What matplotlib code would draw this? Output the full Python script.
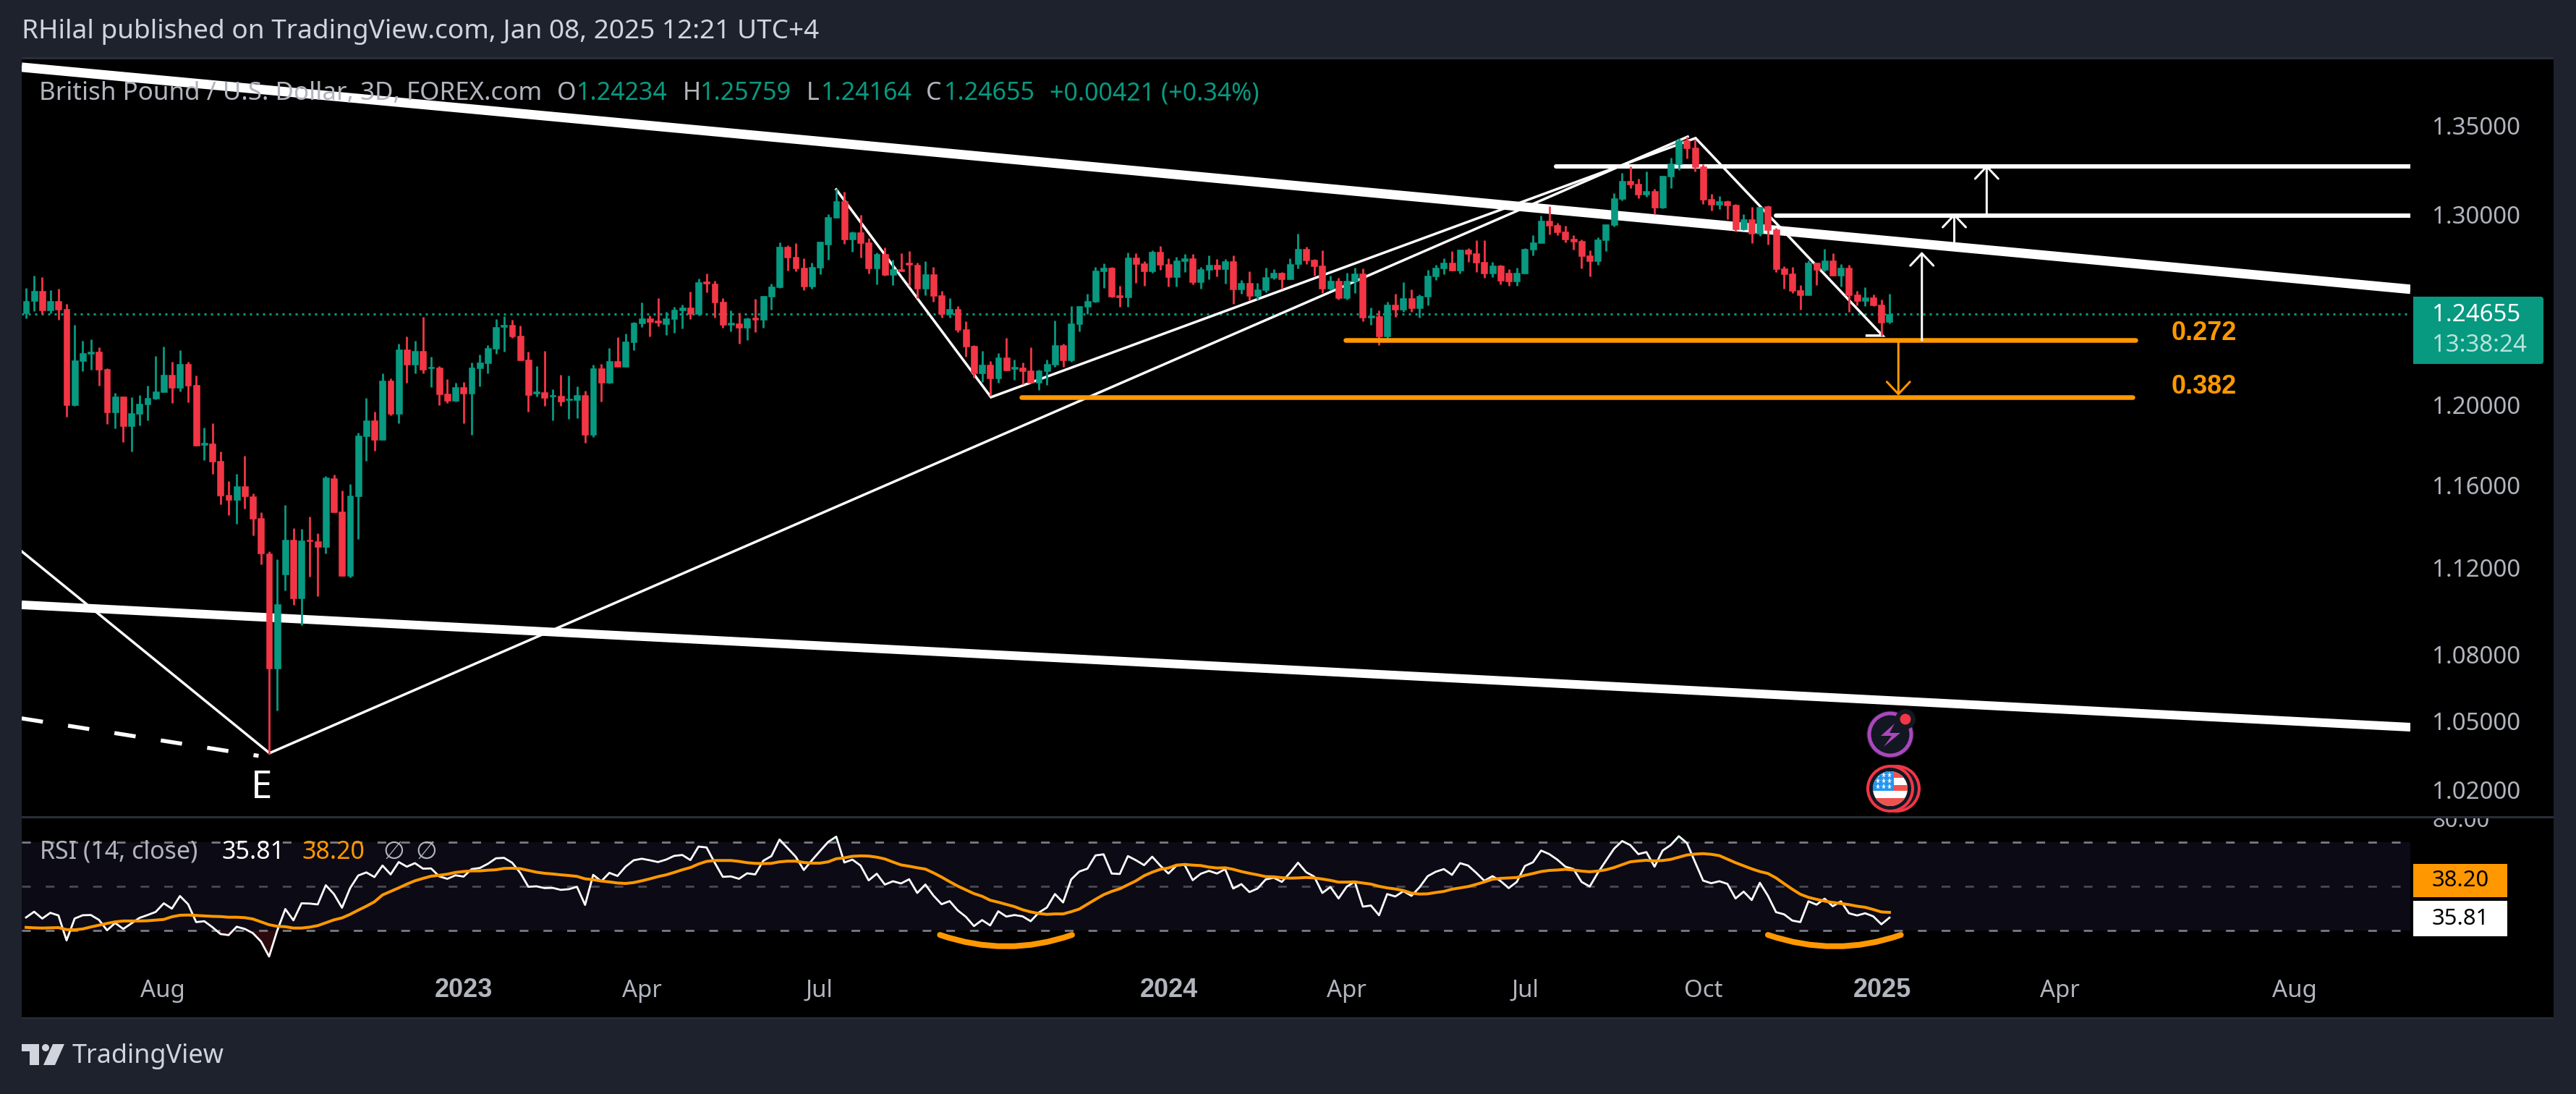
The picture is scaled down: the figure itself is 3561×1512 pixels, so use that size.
import numpy as np
import matplotlib
matplotlib.use("Agg")
import matplotlib.pyplot as plt
from matplotlib.patches import Rectangle, Circle, Polygon, FancyBboxPatch, PathPatch
from matplotlib.path import Path
from matplotlib.ticker import NullLocator, NullFormatter
from matplotlib.transforms import Bbox

plt.rcParams['font.family'] = ['Noto Sans', 'DejaVu Sans']

# ---------- data (bar index = 3D bars, prices GBP/USD) ----------
opens = [1.2470,1.2535,1.2588,1.2487,1.2535,1.2493,1.1996,1.2223,1.2261,1.2269,
1.2181,1.1960,1.2042,1.1892,1.1954,1.2000,1.2030,1.2064,1.2151,1.2083,
1.2208,1.2100,1.1798,1.1805,1.1717,1.1551,1.1526,1.1594,1.1544,1.1440,
1.1270,1.0735,1.1170,1.1335,1.1058,1.1335,1.1328,1.1300,1.1633,1.1470,
1.1163,1.1544,1.1841,1.1920,1.1822,1.2122,1.1954,1.2282,1.2204,1.2274,
1.2183,1.2189,1.2057,1.2019,1.2089,1.2057,1.2185,1.2212,1.2286,1.2400,
1.2410,1.2355,1.2231,1.2057,1.2064,1.2040,1.2045,1.2023,1.2023,1.2049,
1.1848,1.2185,1.2111,1.2223,1.2193,1.2318,1.2419,1.2446,
1.2433,1.2414,1.2440,1.2486,1.2501,1.2466,1.2639,1.2627,1.2532,1.2410,
1.2417,1.2395,1.2448,1.2437,1.2558,1.2608,1.2826,1.2772,1.2714,1.2612,
1.2714,1.2838,1.2983,1.3075,1.2865,1.2905,1.2850,1.2710,1.2787,1.2675,
1.2705,1.2740,1.2730,1.2601,1.2678,1.2566,1.2467,1.2494,1.2388,1.2300,
1.2159,1.2203,1.2133,1.2241,1.2181,1.2189,1.2174,1.2110,1.2170,1.2203,
1.2304,1.2226,1.2414,1.2506,1.2532,1.2694,1.2712,1.2566,1.2554,1.2768,
1.2737,1.2694,1.2799,1.2733,1.2662,1.2748,1.2764,1.2635,1.2702,1.2729,
1.2705,1.2748,1.2597,1.2631,1.2562,1.2593,1.2658,1.2686,1.2650,1.2733,
1.2814,1.2756,1.2725,1.2601,1.2643,1.2551,1.2639,1.2682,1.2448,1.2456,
1.2350,1.2517,1.2491,1.2551,1.2498,1.2558,1.2666,1.2709,1.2740,1.2698,
1.2811,1.2791,1.2744,1.2682,1.2725,1.2686,1.2639,1.2682,1.2811,1.2846,
1.2968,1.2944,1.2909,1.2869,1.2857,1.2779,1.2748,1.2861,1.2944,1.3087,
1.3187,1.3171,1.3111,1.3131,1.3040,1.3211,1.3280,1.3414,1.3373,1.3268,
1.3087,1.3055,1.3075,1.3055,1.2921,1.2975,1.2897,1.3047,1.2921,1.2709,
1.2682,1.2594,1.2567,1.2740,1.2701,1.2752,1.2670,1.2713,1.2570,1.2536,
1.2555,1.2517,1.24234]
highs = [1.2604,1.2669,1.2662,1.2594,1.2600,1.2519,1.2410,1.2326,1.2334,1.2292,
1.2185,1.2060,1.2042,1.2038,1.2047,1.2094,1.2250,1.2297,1.2219,1.2280,
1.2218,1.2147,1.1885,1.1906,1.1766,1.1618,1.1655,1.1744,1.1556,1.1466,
1.1279,1.1240,1.1503,1.1391,1.1387,1.1447,1.1364,1.1642,1.1651,1.1573,
1.1605,1.1857,1.2034,1.1965,1.2160,1.2134,1.2313,1.2351,1.2328,1.2450,
1.2246,1.2197,1.2130,1.2111,1.2113,1.2216,1.2254,1.2303,1.2442,1.2454,
1.2435,1.2408,1.2271,1.2197,1.2274,1.2079,1.2151,1.2149,1.2092,1.2070,
1.2202,1.2208,1.2290,1.2347,1.2364,1.2425,1.2529,1.2458,
1.2550,1.2477,1.2507,1.2515,1.2585,1.2655,1.2682,1.2643,1.2550,1.2486,
1.2473,1.2448,1.2547,1.2562,1.2627,1.2850,1.2834,1.2846,1.2764,1.2740,
1.2854,1.3003,1.3143,1.3127,1.2909,1.2999,1.2873,1.2795,1.2821,1.2756,
1.2791,1.2803,1.2740,1.2748,1.2717,1.2589,1.2551,1.2510,1.2429,1.2304,
1.2274,1.2222,1.2263,1.2342,1.2229,1.2215,1.2293,1.2178,1.2229,1.2433,
1.2312,1.2510,1.2510,1.2575,1.2717,1.2736,1.2717,1.2617,1.2795,1.2791,
1.2747,1.2807,1.2830,1.2764,1.2772,1.2787,1.2787,1.2717,1.2779,1.2760,
1.2760,1.2779,1.2647,1.2694,1.2631,1.2713,1.2705,1.2690,1.2764,1.2896,
1.2826,1.2760,1.2807,1.2670,1.2658,1.2686,1.2713,1.2709,1.2501,1.2486,
1.2532,1.2574,1.2635,1.2597,1.2570,1.2701,1.2729,1.2764,1.2803,1.2811,
1.2818,1.2861,1.2861,1.2744,1.2729,1.2705,1.2713,1.2818,1.2888,1.2995,
1.3047,1.2956,1.2940,1.2888,1.2865,1.2807,1.2879,1.2948,1.3119,1.3232,
1.3268,1.3199,1.3240,1.3143,1.3215,1.3316,1.3427,1.3435,1.3421,1.3280,
1.3115,1.3103,1.3079,1.3059,1.3003,1.3044,1.3044,1.3051,1.2929,1.2721,
1.2717,1.2620,1.2752,1.2740,1.2814,1.2791,1.2733,1.2729,1.2590,1.2609,
1.2570,1.2543,1.25759]
lows = [1.2445,1.2483,1.2468,1.2472,1.2437,1.1939,1.1993,1.2170,1.2177,1.2096,
1.1902,1.1881,1.1811,1.1765,1.1896,1.1918,1.2026,1.2064,1.2008,1.2068,
1.2011,1.1794,1.1722,1.1655,1.1506,1.1451,1.1412,1.1484,1.1356,1.1217,
1.0355,1.0546,1.1093,1.1028,1.0933,1.1159,1.1068,1.1267,1.1466,1.1161,
1.1154,1.1339,1.1717,1.1769,1.1822,1.1947,1.1906,1.2111,1.2160,1.2160,
1.2087,1.1996,1.2008,1.2015,1.1906,1.1848,1.2092,1.2157,1.2261,1.2269,
1.2343,1.2227,1.1965,1.2042,1.1993,1.1920,1.1991,1.1928,1.1932,1.1809,
1.1837,1.2015,1.2107,1.2193,1.2193,1.2278,1.2400,1.2351,
1.2404,1.2357,1.2368,1.2391,1.2440,1.2460,1.2582,1.2449,1.2395,1.2376,
1.2313,1.2330,1.2372,1.2395,1.2490,1.2605,1.2698,1.2694,1.2594,1.2601,
1.2678,1.2757,1.2983,1.2842,1.2799,1.2768,1.2682,1.2624,1.2672,1.2620,
1.2694,1.2617,1.2551,1.2566,1.2532,1.2448,1.2448,1.2372,1.2244,1.2136,
1.2114,1.2043,1.2110,1.2174,1.2126,1.2103,1.2110,1.2074,1.2099,1.2192,
1.2192,1.2219,1.2376,1.2467,1.2528,1.2605,1.2554,1.2506,1.2506,1.2631,
1.2617,1.2686,1.2702,1.2612,1.2612,1.2690,1.2624,1.2601,1.2650,1.2666,
1.2627,1.2521,1.2575,1.2540,1.2544,1.2582,1.2650,1.2601,1.2650,1.2710,
1.2733,1.2670,1.2578,1.2593,1.2543,1.2543,1.2578,1.2429,1.2410,1.2304,
1.2335,1.2452,1.2478,1.2478,1.2448,1.2512,1.2646,1.2678,1.2698,1.2682,
1.2744,1.2690,1.2658,1.2662,1.2624,1.2616,1.2616,1.2682,1.2779,1.2846,
1.2893,1.2888,1.2850,1.2811,1.2709,1.2666,1.2729,1.2803,1.2936,1.3079,
1.3147,1.3091,1.3099,1.3003,1.3036,1.3147,1.3248,1.3312,1.3240,1.3059,
1.3023,1.3031,1.2975,1.2909,1.2917,1.2846,1.2886,1.2838,1.2690,1.2601,
1.2578,1.2491,1.2567,1.2620,1.2694,1.2670,1.2612,1.2478,1.2512,1.2509,
1.2509,1.2353,1.24164]
closes = [1.2535,1.2588,1.2487,1.2535,1.2491,1.1996,1.2227,1.2265,1.2271,1.2177,
1.1960,1.2042,1.1892,1.1958,1.2004,1.2034,1.2068,1.2153,1.2083,1.2208,
1.2096,1.1794,1.1809,1.1713,1.1547,1.1526,1.1594,1.1542,1.1436,1.1267,
1.0735,1.1031,1.1335,1.1058,1.1331,1.1326,1.1300,1.1635,1.1466,1.1163,
1.1547,1.1844,1.1920,1.1822,1.2122,1.1954,1.2282,1.2204,1.2274,1.2177,
1.2191,1.2053,1.2019,1.2089,1.2057,1.2189,1.2216,1.2290,1.2400,1.2412,
1.2351,1.2227,1.2049,1.2066,1.2034,1.2049,1.2015,1.2030,1.2049,1.1848,
1.2185,1.2111,1.2223,1.2193,1.2322,1.2423,1.2446,1.2427,
1.2421,1.2444,1.2490,1.2501,1.2466,1.2635,1.2627,1.2528,1.2410,1.2421,
1.2395,1.2444,1.2437,1.2562,1.2612,1.2826,1.2768,1.2710,1.2612,1.2717,
1.2854,1.2987,1.3075,1.2865,1.2905,1.2846,1.2710,1.2787,1.2675,1.2705,
1.2694,1.2730,1.2601,1.2678,1.2562,1.2467,1.2494,1.2385,1.2297,1.2159,
1.2203,1.2133,1.2241,1.2174,1.2192,1.2170,1.2110,1.2174,1.2207,1.2304,
1.2226,1.2417,1.2510,1.2536,1.2698,1.2713,1.2558,1.2554,1.2768,1.2733,
1.2694,1.2799,1.2729,1.2662,1.2752,1.2764,1.2635,1.2705,1.2729,1.2705,
1.2748,1.2597,1.2631,1.2562,1.2597,1.2662,1.2686,1.2650,1.2733,1.2814,
1.2752,1.2721,1.2601,1.2643,1.2551,1.2643,1.2682,1.2448,1.2460,1.2350,
1.2517,1.2491,1.2551,1.2498,1.2562,1.2670,1.2713,1.2740,1.2698,1.2811,
1.2787,1.2740,1.2682,1.2725,1.2643,1.2639,1.2686,1.2814,1.2850,1.2968,
1.2940,1.2905,1.2865,1.2853,1.2776,1.2748,1.2865,1.2948,1.3091,1.3187,
1.3167,1.3111,1.3131,1.3040,1.3215,1.3284,1.3414,1.3369,1.3264,1.3083,
1.3055,1.3075,1.3051,1.2921,1.2975,1.2897,1.3044,1.2917,1.2705,1.2678,
1.2588,1.2567,1.2740,1.2701,1.2752,1.2670,1.2713,1.2567,1.2536,1.2555,
1.2513,1.2423,1.24655]

rsi = [35.9,38.5,35.4,38.0,36.8,25.5,35.4,36.9,37.0,34.8,30.1,33.4,30.7,33.2,35.7,37.0,38.4,42.3,39.9,45.6,
41.9,33.8,34.2,31.5,28.4,27.9,31.7,30.7,28.8,25.0,18.2,29.9,39.7,34.6,42.3,42.2,41.8,50.5,46.5,40.3,
49.2,54.9,56.3,54.2,59.4,55.4,61.0,58.9,60.5,58.0,58.1,54.5,53.4,55.0,54.4,57.8,58.3,60.2,62.7,62.9,
60.7,56.1,49.8,50.0,49.2,49.3,48.4,48.7,49.8,41.6,55.2,52.3,56.1,54.7,58.9,61.8,62.5,61.8,
61.0,62.1,63.8,64.2,61.9,68.0,67.6,60.7,54.3,54.5,53.4,55.9,55.4,61.6,63.7,71.2,67.3,63.4,57.4,61.8,
66.0,70.1,72.5,60.8,62.1,59.4,52.7,55.7,50.8,52.3,51.3,53.2,47.0,50.8,45.8,41.9,43.3,39.1,36.2,32.0,
34.7,32.3,38.7,36.3,37.0,36.4,34.2,38.1,40.4,46.5,42.7,53.1,56.7,58.0,64.0,64.5,55.8,55.6,63.7,61.8,
59.6,63.4,59.4,55.8,59.4,59.7,52.8,55.7,57.0,55.8,57.8,49.0,51.0,47.4,49.0,53.1,53.9,
52.0,56.1,60.7,56.4,54.4,47.0,49.7,44.5,49.8,52.1,40.8,41.3,36.9,46.5,45.4,47.8,45.7,49.6,54.6,56.6,
57.8,55.2,60.5,59.4,56.1,52.5,54.6,52.4,49.2,52.0,59.2,60.9,66.2,64.6,62.1,58.9,57.8,52.0,49.9,56.1,
61.6,67.0,70.5,68.7,64.6,65.5,58.9,66.2,68.7,72.7,69.6,61.0,52.6,51.4,52.3,51.1,44.5,47.6,43.8,51.6,
45.7,38.3,37.3,34.5,33.8,43.2,41.7,44.4,41.0,43.2,37.8,36.8,37.8,36.4,32.8,35.81]
rsi_ma = [31.4,31.2,31.1,31.2,31.3,30.4,30.3,30.7,31.6,32.4,33.2,33.9,34.3,34.3,34.3,34.4,34.7,35.0,36.2,36.9,
37.0,36.8,36.6,36.4,36.3,36.0,36.0,35.8,35.2,33.9,32.6,31.9,31.7,31.1,31.1,31.5,32.2,33.5,34.8,35.7,
37.3,39.2,41.0,43.0,46.1,47.7,49.3,51.0,52.5,53.6,54.6,55.0,55.5,56.3,56.7,57.0,57.0,57.3,57.5,58.1,
58.2,58.0,57.2,56.4,55.9,55.6,55.2,54.9,54.5,53.4,53.0,52.4,52.0,51.5,51.3,51.7,52.5,53.4,
54.4,55.2,56.3,57.5,58.5,60.1,61.3,61.7,61.7,61.7,61.3,60.7,60.4,60.3,60.4,61.1,61.4,61.4,60.8,60.5,
60.5,61.1,62.5,62.9,63.6,63.8,63.7,63.2,62.4,61.0,59.7,59.1,58.4,57.8,56.1,54.2,52.1,50.1,48.4,46.7,
45.5,43.7,42.8,41.8,40.8,39.4,38.4,37.7,37.3,37.5,37.5,38.5,39.7,41.9,44.1,46.2,47.7,48.9,50.7,52.5,
54.8,56.4,57.7,58.3,59.6,59.9,59.6,59.4,58.7,58.3,58.4,57.7,56.7,55.9,55.2,54.4,54.3,
53.9,53.7,53.8,54.0,53.8,53.3,52.7,51.9,51.9,52.0,51.5,51.0,50.0,49.3,48.8,48.1,46.9,46.5,46.6,47.2,
47.7,48.7,49.3,49.9,50.9,52.0,53.2,53.6,53.8,54.0,55.0,55.8,56.7,57.2,57.4,57.7,57.4,56.9,56.6,56.9,
57.5,58.5,59.8,61.1,61.5,61.8,61.5,61.7,62.2,63.2,64.2,64.6,64.8,64.5,63.9,62.3,60.7,59.3,57.9,56.7,
55.8,53.8,51.2,48.7,46.4,45.0,44.1,43.3,42.7,42.2,41.7,41.0,40.5,39.5,38.4,38.20]

price_ticks = [1.35, 1.30, 1.20, 1.16, 1.12, 1.08, 1.05, 1.02]
time_tick_pos = [16.9, 54.0, 76.0, 97.9, 141.1, 163.0, 185.0, 207.0, 229.1, 251.0, 280.0]
time_tick_lab = ['Aug', '2023', 'Apr', 'Jul', '2024', 'Apr', 'Jul', 'Oct', '2025', 'Apr', 'Aug']
last_price = 1.24655

# drawings, in (bar index, price)
trend_top = ([-0.54, 294.3], [1.3836, 1.2598])
trend_low = ([-0.54, 294.3], [1.1027, 1.0472])
dashed_e = ([-0.54, 28.7], [1.0511, 1.0346])
zig_a = ([-0.54, 30.05, 205.1], [1.1279, 1.0358, 1.3436])
zig_b = ([100.0, 119.1, 206.07, 229.15, 227.2], [1.3140, 1.2037, 1.3428, 1.2354, 1.2354])
res_1 = ([188.8, 294.3], [1.3269, 1.3269])
res_2 = ([216.0, 294.3], [1.2996, 1.2996])
fib_272 = ([162.9, 260.4], [1.2331, 1.2331])
fib_382 = ([122.9, 260.0], [1.2037, 1.2037])

# ---------- style ----------
W, H, DPI = 3561, 1512, 100
UP, DOWN = '#089981', '#F23645'
FRAME, SEP = '#1E222D', '#2A2E39'
TXT = '#B2B5BE'
ORANGE = '#FF9800'
L, R = 30, 3332        # plot area, px
TOP, SPLIT, RSI_BOT = 82, 1128, 1340
def pt(px):
    return px * 72.0 / DPI

fig = plt.figure(figsize=(W / DPI, H / DPI), dpi=DPI, facecolor=FRAME)
def rect(l, t, r, b, **kw):
    return fig.add_axes([l / W, 1 - b / H, (r - l) / W, (b - t) / H], **kw)

bg = fig.add_axes([0, 0, 1, 1], zorder=0)
bg.set_xlim(0, W); bg.set_ylim(H, 0); bg.axis('off')
bg.add_patch(Rectangle((L, TOP), 3530 - L, 1406 - TOP, fc='black', ec='none'))
bg.add_patch(Rectangle((L, 79), 3530 - L, 3, fc=SEP, ec='none'))
bg.add_patch(Rectangle((L, SPLIT), 3530 - L, 3, fc=SEP, ec='none'))
bg.add_patch(Rectangle((L, 1406), 3530 - L, 2, fc=SEP, ec='none'))

xlim = (-0.536, 294.29)
idx = np.arange(len(closes))
o, h, l, c = map(np.array, (opens, highs, lows, closes))

# ---------- main pane ----------
ax = rect(L, TOP, R, SPLIT, zorder=1)
ax.patch.set_alpha(0)
ax.set_yscale('log')
ax.set_xlim(*xlim)
ax.set_ylim(1.0086, 1.3882)
for s in ax.spines.values():
    s.set_visible(False)
ax.set_xticks([])
ax.yaxis.tick_right()
ax.yaxis.set_major_locator(plt.FixedLocator(price_ticks))
ax.yaxis.set_major_formatter(plt.FixedFormatter(['%.5f' % p for p in price_ticks]))
ax.yaxis.set_minor_locator(NullLocator())
ax.yaxis.set_minor_formatter(NullFormatter())
ax.tick_params(axis='y', which='major', length=0, pad=pt(30), labelsize=pt(33), labelcolor=TXT)

ax.axhline(last_price, color=UP, lw=pt(3), ls=(0, (1, 2)), zorder=1)
ax.plot(*trend_top, color='white', lw=pt(13), solid_capstyle='butt', zorder=2)
ax.plot(*trend_low, color='white', lw=pt(12), solid_capstyle='butt', zorder=2)
ax.plot(*dashed_e, color='white', lw=pt(5.5), ls=(0, (5.4, 6.4)), dash_capstyle='butt', zorder=2)
ax.plot(*zig_a, color='white', lw=pt(3.5), solid_joinstyle='miter', zorder=2)
ax.plot(*zig_b, color='white', lw=pt(3.5), solid_joinstyle='miter', zorder=2)
ax.plot(*res_1, color='white', lw=pt(6), solid_capstyle='round', zorder=2)
ax.plot(*res_2, color='white', lw=pt(6), solid_capstyle='round', zorder=2)

colors = np.where(c >= o, UP, DOWN)
ax.vlines(idx, l, h, colors=colors, lw=pt(2.8), zorder=3)
ax.bar(idx, np.maximum(np.abs(c - o), 0.0002), bottom=np.minimum(o, c), width=0.8,
       color=colors, edgecolor=colors, linewidth=0.4, zorder=3)

ax.plot(*fib_272, color=ORANGE, lw=pt(6.5), solid_capstyle='round', zorder=4)
ax.plot(*fib_382, color=ORANGE, lw=pt(6.5), solid_capstyle='round', zorder=4)

def arrow(i, p0, p1, col):
    ax.annotate('', xy=(i, p1), xytext=(i, p0),
                arrowprops=dict(arrowstyle='->,head_length=%.1f,head_width=%.1f' % (pt(17), pt(16)),
                                color=col, lw=pt(3), shrinkA=0, shrinkB=0, mutation_scale=1),
                zorder=5)
arrow(234.0, 1.2330, 1.2799, 'white')
arrow(238.0, 1.2850, 1.3008, 'white')
arrow(242.0, 1.3008, 1.3277, 'white')
arrow(231.1, 1.2331, 1.2045, ORANGE)

ax.text(29.1, 1.0205, 'E', color='white', fontsize=pt(53), ha='center', va='center', zorder=6)
ax.text(268.8, 1.2365, '0.272', color=ORANGE, fontsize=pt(36), family='Liberation Sans', weight='bold',
        ha='center', va='center', zorder=6, clip_on=False)
ax.text(268.8, 1.2092, '0.382', color=ORANGE, fontsize=pt(36), family='Liberation Sans', weight='bold',
        ha='center', va='center', zorder=6, clip_on=False)

# ---------- RSI pane ----------
rx = rect(L, SPLIT + 3, R, RSI_BOT, zorder=1)
rx.patch.set_alpha(0)
rx.set_xlim(*xlim)
rx.set_ylim(12.3, 80.8)
for s in rx.spines.values():
    s.set_visible(False)
rx.set_yticks([])
rx.axhspan(30, 70, color='#0C0A14', lw=0, zorder=1)
dash = (0, (4.3, 7.4))
rx.axhline(70, color='#787B86', lw=pt(2.8), ls=dash, dash_capstyle='butt', zorder=2)
rx.axhline(50, color='#484A55', lw=pt(2.8), ls=dash, dash_capstyle='butt', zorder=2)
rx.axhline(30, color='#787B86', lw=pt(2.8), ls=dash, dash_capstyle='butt', zorder=2)
r = np.array(rsi)
rx.fill_between(idx, r, 30, where=r < 30, interpolate=True, color=DOWN, alpha=0.18, lw=0, zorder=2)
rx.fill_between(idx, r, 70, where=r > 70, interpolate=True, color=UP, alpha=0.18, lw=0, zorder=2)
rx.plot(idx, rsi, color='white', lw=pt(2.8), zorder=3)
rx.plot(idx, rsi_ma, color=ORANGE, lw=pt(4), zorder=4)
for a, m, b in ((112.8, 121.0, 129.1), (215.0, 223.3, 231.4)):
    rx.add_patch(PathPatch(Path([(a, 28.0), (m, 17.6), (b, 28.0)],
                                [Path.MOVETO, Path.CURVE3, Path.CURVE3]),
                           fc='none', ec=ORANGE, lw=pt(8), capstyle='round', zorder=5))
rx.set_xticks(time_tick_pos)
rx.set_xticklabels(time_tick_lab)
rx.tick_params(axis='x', length=0, pad=pt(29), labelsize=pt(33), labelcolor=TXT)
for t, s in zip(rx.get_xticklabels(), time_tick_lab):
    t.set_va('center')
    if s.isdigit():
        t.set_family('Liberation Sans')
        t.set_fontweight('bold')
        t.set_fontsize(pt(36))

# ---------- overlay: text and icons, in px ----------
ov = fig.add_axes([0, 0, 1, 1], zorder=3)
ov.set_xlim(0, W); ov.set_ylim(H, 0); ov.axis('off'); ov.patch.set_alpha(0)

def T(x, y, s, col=TXT, size=34, **kw):
    kw.setdefault('ha', 'left'); kw.setdefault('va', 'center')
    return ov.text(x, y, s, color=col, fontsize=pt(size), **kw)

T(30, 44, 'RHilal published on TradingView.com, Jan 08, 2025 12:21 UTC+4', '#D1D4DC', 37)
T(54, 129, 'British Pound / U.S. Dollar, 3D, FOREX.com', TXT, 35)
for lx, lab, vx, val in ((770, 'O', 797, '1.24234'), (944, 'H', 968, '1.25759'),
                         (1115, 'L', 1135, '1.24164'), (1280, 'C', 1305, '1.24655')):
    T(lx, 129, lab, TXT, 34)
    T(vx, 129, val, UP, 34)
T(1451, 129, '+0.00421 (+0.34%)', UP, 34)

T(55, 1178, 'RSI (14, close)', TXT, 34)
T(306, 1178, '35.81', 'white', 34)
T(417, 1178, '38.20', ORANGE, 34)
T(529, 1178, '∅', TXT, 34)
T(574, 1178, '∅', TXT, 34)

# last-price tag
ov.add_patch(FancyBboxPatch((3340, 414), 172, 85, boxstyle='round,pad=4,rounding_size=4', fc=UP, ec='none'))
ov.add_patch(Rectangle((3336, 410), 12, 93, fc=UP, ec='none'))
T(3362, 436, '1.24655', 'white', 33)
T(3362, 477, '13:38:24', '#B8E3DA', 33)
# RSI tags
ov.add_patch(Rectangle((3336, 1194), 130, 46, fc=ORANGE, ec='none'))
T(3401, 1217, '38.20', 'black', 31, ha='center')
ov.add_patch(Rectangle((3336, 1245), 130, 49, fc='white', ec='none'))
T(3401, 1270, '35.81', 'black', 31, ha='center')
t80 = T(3362, 1135, '80.00', TXT, 31)
t80.set_clip_box(Bbox.from_extents(3340, 0, 3530, H - 1131))
t80.set_clip_on(True)

# lightning icon
ov.add_patch(Circle((2613, 1015), 33, fc='#131722', ec='none'))
ov.add_patch(Circle((2613, 1015), 29, fc='#131722', ec='#AB47BC', lw=pt(5)))
ov.add_patch(Polygon([(2619, 1000), (2600, 1017), (2615, 1017), (2604, 1032), (2627, 1013), (2612, 1013)],
                     closed=True, fc='#AB47BC', ec='none'))
ov.add_patch(Circle((2634, 994), 14, fc='#131722', ec='none'))
ov.add_patch(Circle((2634, 994), 7.5, fc=DOWN, ec='none'))
# event icon with flag
ov.add_patch(Circle((2622, 1090), 31, fc='#131722', ec=DOWN, lw=pt(4)))
ov.add_patch(Circle((2613, 1090), 31, fc='#131722', ec=DOWN, lw=pt(4)))
flag = Circle((2613, 1090), 24, fc='white', ec='none')
ov.add_patch(flag)
for top, hgt, col in ((1065, 10, '#EF5350'), (1085, 8, '#EF5350'), (1103, 12, '#EF5350'),
                      (1065, 28, None)):
    if col:
        s = Rectangle((2585, top), 60, hgt, fc=col, ec='none')
    else:
        s = Rectangle((2585, top), 33, hgt, fc='#2196F3', ec='none')
    ov.add_patch(s)
    s.set_clip_path(flag)
for sx in (2596, 2604, 2612):
    for sy in (1071, 1079, 1087):
        st = ov.plot(sx, sy, marker='*', ms=pt(8), color='white', mew=0, ls='none')[0]
        st.set_clip_path(flag)

# TradingView logo
logo = '#D1D4DC'
ov.add_patch(Polygon([(30, 1443), (54, 1443), (54, 1472), (41, 1472), (41, 1453), (30, 1453)],
                     closed=True, fc=logo, ec='none'))
ov.add_patch(Circle((63, 1448), 5, fc=logo, ec='none'))
ov.add_patch(Polygon([(73, 1443), (89, 1443), (76, 1472), (60, 1472)], closed=True, fc=logo, ec='none'))
T(100, 1460, 'TradingView', logo, 36)

fig.savefig('out.png', dpi=DPI, facecolor=FRAME)
